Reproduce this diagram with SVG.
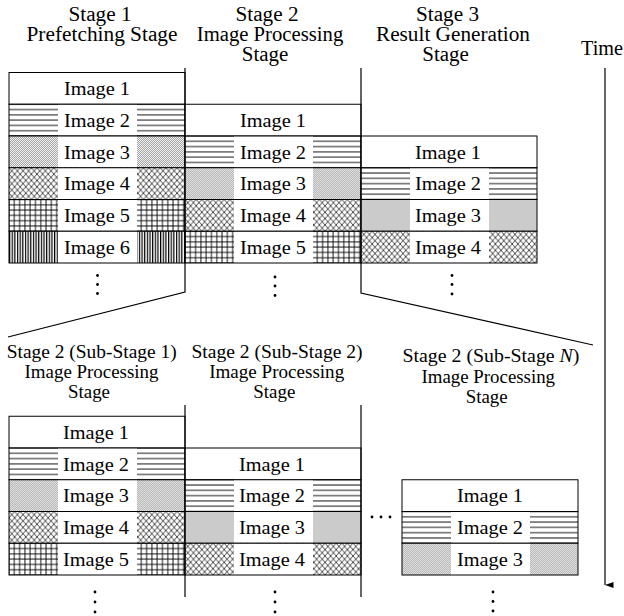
<svg xmlns="http://www.w3.org/2000/svg" xmlns:xlink="http://www.w3.org/1999/xlink" width="624" height="616" viewBox="0 0 624 616">
  <style>
    text { font-family: "Liberation Serif", "Times New Roman", serif; fill: #000; text-anchor: middle; }
    .lbl { font-size: 19.5px; }
    .ttl { font-size: 20px; }
    .sub { font-size: 18.3px; }
    .frame { fill: none; stroke: #000; stroke-width: 1; }
    .gap { fill: #fff; }
    .sep { fill: none; stroke: #000; stroke-width: 1.2; }
    .dot { fill: #000; }
  </style>
  <defs>
    <!-- fill textures for the image rows -->
    <pattern id="p-h" patternUnits="userSpaceOnUse" width="10" height="5.2917">
      <rect width="10" height="5.2917" fill="#fff"/>
      <rect y="-0.45" width="10" height="0.9" fill="#000"/>
      <rect y="4.8417" width="10" height="0.9" fill="#000"/>
    </pattern>
    <pattern id="p-dot" patternUnits="userSpaceOnUse" width="2" height="2">
      <rect width="2" height="2" fill="#f0f0f0"/>
      <rect width="1" height="1" fill="#a6a6a6"/>
      <rect x="1" y="1" width="1" height="1" fill="#a6a6a6"/>
    </pattern>
    <pattern id="p-x" patternUnits="userSpaceOnUse" width="5.6" height="6.35">
      <rect width="5.6" height="6.35" fill="#fff"/>
      <path d="M-1,-1.134 L6.6,7.484 M-1,7.484 L6.6,-1.134" stroke="#000" stroke-width="0.7"/>
    </pattern>
    <pattern id="p-grid" patternUnits="userSpaceOnUse" width="5.2917" height="5.2917">
      <rect width="5.2917" height="5.2917" fill="#fff"/>
      <rect y="-0.45" width="5.2917" height="0.9" fill="#000"/>
      <rect y="4.8417" width="5.2917" height="0.9" fill="#000"/>
      <rect x="-0.45" width="0.9" height="5.2917" fill="#000"/>
      <rect x="4.8417" width="0.9" height="5.2917" fill="#000"/>
    </pattern>
    <pattern id="p-v" patternUnits="userSpaceOnUse" width="2.65" height="10">
      <rect width="2.65" height="10" fill="#fff"/>
      <rect width="1.2" height="10" fill="#000"/>
    </pattern>

    <!-- one image row: 176 x 31.75, textured sides, white middle -->
    <g id="row1">
      <rect width="176" height="31.75" fill="#fff"/>
      <rect class="frame" width="176" height="31.75"/>
    </g>
    <g id="row2">
      <rect width="176" height="31.75" fill="url(#p-h)"/>
      <rect class="gap" x="49" width="79" height="31.75"/>
      <rect class="frame" width="176" height="31.75"/>
    </g>
    <g id="row3">
      <rect width="176" height="31.75" fill="url(#p-dot)"/>
      <rect class="gap" x="49" width="79" height="31.75"/>
      <rect class="frame" width="176" height="31.75"/>
    </g>
    <g id="row4">
      <rect width="176" height="31.75" fill="url(#p-x)"/>
      <rect class="gap" x="49" width="79" height="31.75"/>
      <rect class="frame" width="176" height="31.75"/>
    </g>
    <g id="row5">
      <rect width="176" height="31.75" fill="url(#p-grid)"/>
      <rect class="gap" x="49" width="79" height="31.75"/>
      <rect class="frame" width="176" height="31.75"/>
    </g>
    <g id="row6">
      <rect width="176" height="31.75" fill="url(#p-v)"/>
      <rect class="gap" x="49" width="79" height="31.75"/>
      <rect class="frame" width="176" height="31.75"/>
    </g>

    <marker id="arrow" markerWidth="6" markerHeight="9" refX="3" refY="8.5" orient="auto-start-reverse" markerUnits="userSpaceOnUse" viewBox="0 0 6 9">
      <path d="M0,0 L3,8.5 L6,0 Z" fill="#000"/>
    </marker>
  </defs>

  <rect width="624" height="616" fill="#fff"/>

  <!-- Stage 1: prefetching -->
  <g id="stage1">
    <text class="ttl" x="100" y="20.5" textLength="63" lengthAdjust="spacingAndGlyphs">Stage 1</text>
    <text class="ttl" x="102" y="40.5" textLength="151" lengthAdjust="spacingAndGlyphs">Prefetching Stage</text>
    <use xlink:href="#row1" x="9" y="72.5"/>
    <use xlink:href="#row2" x="9" y="104.25"/>
    <use xlink:href="#row3" x="9" y="136"/>
    <use xlink:href="#row4" x="9" y="167.75"/>
    <use xlink:href="#row5" x="9" y="199.5"/>
    <use xlink:href="#row6" x="9" y="231.25"/>
    <text class="lbl" x="97" y="95.2" textLength="66" lengthAdjust="spacingAndGlyphs">Image 1</text>
    <text class="lbl" x="97" y="126.95" textLength="66" lengthAdjust="spacingAndGlyphs">Image 2</text>
    <text class="lbl" x="97" y="158.7" textLength="66" lengthAdjust="spacingAndGlyphs">Image 3</text>
    <text class="lbl" x="97" y="190.45" textLength="66" lengthAdjust="spacingAndGlyphs">Image 4</text>
    <text class="lbl" x="97" y="222.2" textLength="66" lengthAdjust="spacingAndGlyphs">Image 5</text>
    <text class="lbl" x="97" y="253.95" textLength="66" lengthAdjust="spacingAndGlyphs">Image 6</text>
    <circle class="dot" cx="97.5" cy="275.5" r="1.4"/>
    <circle class="dot" cx="97.5" cy="284.5" r="1.4"/>
    <circle class="dot" cx="97.5" cy="293.5" r="1.4"/>
  </g>

  <!-- Stage 2: image processing -->
  <g id="stage2">
    <text class="ttl" x="267" y="20.5" textLength="63" lengthAdjust="spacingAndGlyphs">Stage 2</text>
    <text class="ttl" x="270" y="40.5" textLength="146.5" lengthAdjust="spacingAndGlyphs">Image Processing</text>
    <text class="ttl" x="265" y="61" textLength="46.5" lengthAdjust="spacingAndGlyphs">Stage</text>
    <use xlink:href="#row1" x="185" y="104.25"/>
    <use xlink:href="#row2" x="185" y="136"/>
    <use xlink:href="#row3" x="185" y="167.75"/>
    <use xlink:href="#row4" x="185" y="199.5"/>
    <use xlink:href="#row5" x="185" y="231.25"/>
    <text class="lbl" x="273" y="126.95" textLength="66" lengthAdjust="spacingAndGlyphs">Image 1</text>
    <text class="lbl" x="273" y="158.7" textLength="66" lengthAdjust="spacingAndGlyphs">Image 2</text>
    <text class="lbl" x="273" y="190.45" textLength="66" lengthAdjust="spacingAndGlyphs">Image 3</text>
    <text class="lbl" x="273" y="222.2" textLength="66" lengthAdjust="spacingAndGlyphs">Image 4</text>
    <text class="lbl" x="273" y="253.95" textLength="66" lengthAdjust="spacingAndGlyphs">Image 5</text>
    <circle class="dot" cx="275" cy="277" r="1.4"/>
    <circle class="dot" cx="275" cy="286" r="1.4"/>
    <circle class="dot" cx="275" cy="295.5" r="1.4"/>
  </g>

  <!-- Stage 3: result generation -->
  <g id="stage3">
    <text class="ttl" x="447.5" y="20.5" textLength="63" lengthAdjust="spacingAndGlyphs">Stage 3</text>
    <text class="ttl" x="453" y="40.5" textLength="154" lengthAdjust="spacingAndGlyphs">Result Generation</text>
    <text class="ttl" x="445.5" y="61" textLength="46.5" lengthAdjust="spacingAndGlyphs">Stage</text>
    <use xlink:href="#row1" x="361" y="136"/>
    <use xlink:href="#row2" x="361" y="167.75"/>
    <use xlink:href="#row3" x="361" y="199.5"/>
    <use xlink:href="#row4" x="361" y="231.25"/>
    <text class="lbl" x="448" y="158.7" textLength="66" lengthAdjust="spacingAndGlyphs">Image 1</text>
    <text class="lbl" x="448" y="190.45" textLength="66" lengthAdjust="spacingAndGlyphs">Image 2</text>
    <text class="lbl" x="448" y="222.2" textLength="66" lengthAdjust="spacingAndGlyphs">Image 3</text>
    <text class="lbl" x="448" y="253.95" textLength="66" lengthAdjust="spacingAndGlyphs">Image 4</text>
    <circle class="dot" cx="452" cy="275.5" r="1.4"/>
    <circle class="dot" cx="452" cy="284.5" r="1.4"/>
    <circle class="dot" cx="452" cy="294" r="1.4"/>
  </g>

  <!-- Stage 2, sub-stage 1 -->
  <g id="sub1">
    <text class="sub" x="91.7" y="357.5" textLength="170" lengthAdjust="spacingAndGlyphs">Stage 2 (Sub-Stage 1)</text>
    <text class="sub" x="91.5" y="377.5" textLength="134" lengthAdjust="spacingAndGlyphs">Image Processing</text>
    <text class="sub" x="89" y="398" textLength="42" lengthAdjust="spacingAndGlyphs">Stage</text>
    <use xlink:href="#row1" x="9" y="416.25"/>
    <use xlink:href="#row2" x="9" y="448"/>
    <use xlink:href="#row3" x="9" y="479.75"/>
    <use xlink:href="#row4" x="9" y="511.5"/>
    <use xlink:href="#row5" x="9" y="543.25"/>
    <text class="lbl" x="96" y="438.95" textLength="66" lengthAdjust="spacingAndGlyphs">Image 1</text>
    <text class="lbl" x="96" y="470.7" textLength="66" lengthAdjust="spacingAndGlyphs">Image 2</text>
    <text class="lbl" x="96" y="502.45" textLength="66" lengthAdjust="spacingAndGlyphs">Image 3</text>
    <text class="lbl" x="96" y="534.2" textLength="66" lengthAdjust="spacingAndGlyphs">Image 4</text>
    <text class="lbl" x="96" y="565.95" textLength="66" lengthAdjust="spacingAndGlyphs">Image 5</text>
    <circle class="dot" cx="95" cy="592" r="1.4"/>
    <circle class="dot" cx="95" cy="602" r="1.4"/>
    <circle class="dot" cx="95" cy="612" r="1.4"/>
  </g>

  <!-- Stage 2, sub-stage 2 -->
  <g id="sub2">
    <text class="sub" x="277" y="357.5" textLength="171" lengthAdjust="spacingAndGlyphs">Stage 2 (Sub-Stage 2)</text>
    <text class="sub" x="276.7" y="377.5" textLength="135" lengthAdjust="spacingAndGlyphs">Image Processing</text>
    <text class="sub" x="274.3" y="398" textLength="42" lengthAdjust="spacingAndGlyphs">Stage</text>
    <use xlink:href="#row1" x="185" y="448"/>
    <use xlink:href="#row2" x="185" y="479.75"/>
    <use xlink:href="#row3" x="185" y="511.5"/>
    <use xlink:href="#row4" x="185" y="543.25"/>
    <text class="lbl" x="272" y="470.7" textLength="66" lengthAdjust="spacingAndGlyphs">Image 1</text>
    <text class="lbl" x="272" y="502.45" textLength="66" lengthAdjust="spacingAndGlyphs">Image 2</text>
    <text class="lbl" x="272" y="534.2" textLength="66" lengthAdjust="spacingAndGlyphs">Image 3</text>
    <text class="lbl" x="272" y="565.95" textLength="66" lengthAdjust="spacingAndGlyphs">Image 4</text>
    <circle class="dot" cx="275" cy="592" r="1.4"/>
    <circle class="dot" cx="275" cy="602" r="1.4"/>
    <circle class="dot" cx="275" cy="612" r="1.4"/>
  </g>

  <!-- elided sub-stages -->
  <g id="more">
    <circle class="dot" cx="372" cy="517" r="1.4"/>
    <circle class="dot" cx="381" cy="517" r="1.4"/>
    <circle class="dot" cx="390" cy="517" r="1.4"/>
  </g>

  <!-- Stage 2, sub-stage N -->
  <g id="subN">
    <text class="sub" x="491" y="361.5" textLength="177" lengthAdjust="spacingAndGlyphs">Stage 2 (Sub-Stage <tspan font-style="italic">N</tspan>)</text>
    <text class="sub" x="488.3" y="382.5" textLength="133.5" lengthAdjust="spacingAndGlyphs">Image Processing</text>
    <text class="sub" x="486.7" y="403" textLength="42" lengthAdjust="spacingAndGlyphs">Stage</text>
    <use xlink:href="#row1" x="402" y="479.75"/>
    <use xlink:href="#row2" x="402" y="511.5"/>
    <use xlink:href="#row3" x="402" y="543.25"/>
    <text class="lbl" x="490" y="502.45" textLength="66" lengthAdjust="spacingAndGlyphs">Image 1</text>
    <text class="lbl" x="490" y="534.2" textLength="66" lengthAdjust="spacingAndGlyphs">Image 2</text>
    <text class="lbl" x="490" y="565.95" textLength="66" lengthAdjust="spacingAndGlyphs">Image 3</text>
    <circle class="dot" cx="493" cy="592" r="1.4"/>
    <circle class="dot" cx="493" cy="601.5" r="1.4"/>
    <circle class="dot" cx="493" cy="611" r="1.4"/>
  </g>

  <!-- time axis -->
  <g id="time">
    <text class="ttl" x="581" y="55" style="text-anchor:start" textLength="42" lengthAdjust="spacingAndGlyphs">Time</text>
  </g>

  <!-- stage boundaries, zoom-out lines and the time arrow -->
  <g id="connectors">
    <polyline class="sep" points="185,68 185,292 8,337"/>
    <polyline class="sep" points="361,68 361,293 593,345"/>
    <line class="sep" x1="185" y1="405" x2="185" y2="597"/>
    <line class="sep" x1="361" y1="405" x2="361" y2="597"/>
    <line class="sep" x1="605" y1="68" x2="605" y2="585" marker-end="url(#arrow)"/>
  </g>
</svg>
